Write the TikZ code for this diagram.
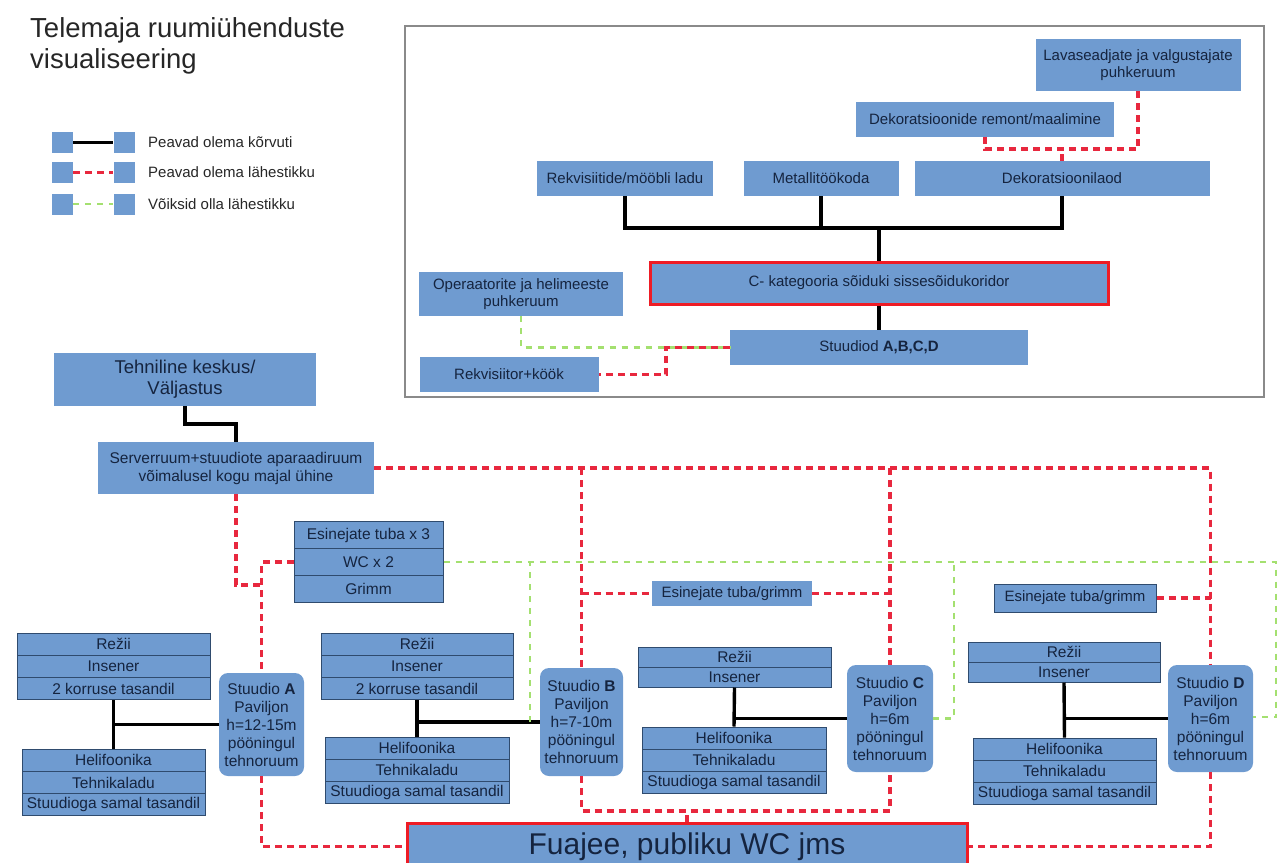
\documentclass[tikz,border=0pt]{standalone}
\usepackage{fontspec}
\setmainfont{Liberation Sans}
\usetikzlibrary{positioning}
\definecolor{boxblue}{HTML}{6F9BD0}
\definecolor{boxline}{HTML}{2F4B6E}
\definecolor{boxtext}{HTML}{15243F}
\definecolor{titlegray}{HTML}{262626}
\definecolor{nearred}{HTML}{E8283E}
\definecolor{maygreen}{HTML}{A4E070}
\definecolor{mustred}{HTML}{EE1C25}
\definecolor{framegray}{HTML}{8A8A8A}

\begin{document}
\begin{tikzpicture}[x=1pt,y=-1pt,
    room/.style={fill=boxblue,text=boxtext,align=center,font=\fontsize{15}{17.5}\selectfont},
    cell/.style={room,draw=boxline,line width=1pt,minimum height=22.3pt,font=\fontsize{15.5}{18}\selectfont},
    studio/.style={room,rounded corners=9pt,font=\fontsize{15.5}{18}\selectfont},
    key/.style={fill=boxblue,minimum width=21pt,minimum height=21pt},
    keytext/.style={anchor=west,text=titlegray,font=\fontsize{15}{18}\selectfont},
    adj/.style={line width=3.4pt,black},
    near/.style={line width=3.4pt,nearred,dash pattern=on 7pt off 5pt},
    may/.style={line width=2.8pt,maygreen,dash pattern=on 6pt off 6pt}]
            \tikzstyle{every node}+=[inner sep=0pt]
            \useasboundingbox (0,0) rectangle (1281,862);
            \node [anchor=base west,text=titlegray,font=\fontsize{27.5}{33}\selectfont] (title1) at (30,37) {Telemaja ruumiühenduste};
            \node [anchor=base west,text=titlegray,font=\fontsize{27.5}{33}\selectfont] (title2) at (30,68) {visualiseering};
            \node [key] (k1a) at (62.5,142.5) {};
            \node [key] (k1b) at (124,142.5) {};
            \draw [adj] (k1a) -- (k1b);
            \node [keytext] (t1) at (148,142.5) {Peavad olema kõrvuti};
            \node [key] (k2a) at (62.5,172.5) {};
            \node [key] (k2b) at (124,172.5) {};
            \draw [near] (k2a) -- (k2b);
            \node [keytext] (t2) at (148,172.5) {Peavad olema lähestikku};
            \node [key] (k3a) at (62.5,204) {};
            \node [key] (k3b) at (124,204) {};
            \draw [may] (k3a) -- (k3b);
            \node [keytext] (t3) at (148,204) {Võiksid olla lähestikku};
            \draw [framegray,line width=1.2pt] (405,26) rectangle (1264,397);
            \node [room,minimum width=205pt,minimum height=52pt] (lava) at (1138,65) {Lavaseadjate ja valgustajate\\puhkeruum};
            \node [room,minimum width=258pt,minimum height=35pt] (remont) at (985,119.5) {Dekoratsioonide remont/maalimine};
            \node [room,minimum width=176pt,minimum height=35pt] (rekv) at (625,178.5) {Rekvisiitide/mööbli ladu};
            \node [room,minimum width=155pt,minimum height=35pt] (metall) at (821,178.5) {Metallitöökoda};
            \node [room,minimum width=295pt,minimum height=35pt] (laod) at (1062,178.5) {Dekoratsioonilaod};
            \node [room,draw=mustred,line width=3pt,minimum width=458pt,minimum height=42pt] (koridor) at (879,283) {C- kategooria sõiduki sissesõidukoridor};
            \node [room,minimum width=298pt,minimum height=35pt] (stuudiod) at (879,347.5) {Stuudiod \textbf{A,B,C,D}};
            \node [room,minimum width=204pt,minimum height=44pt] (oper) at (521,294) {Operaatorite ja helimeeste\\puhkeruum};
            \node [room,minimum width=179pt,minimum height=35pt] (rekvkook) at (509,374.5) {Rekvisiitor+köök};
            \coordinate (kk) at (666,347.5);
            \draw [adj] (rekv.south) |- (laod.south |- 0,228) -- (laod.south);
            \draw [adj] (metall.south) -- (metall.south |- 0,228);
            \draw [adj] (koridor.north) -- (koridor.north |- 0,228);
            \draw [adj] (koridor.south) -- (stuudiod.north);
            \draw [near] (lava.south) |- (remont.south |- 0,149) -- (remont.south);
            \draw [near] (laod.north) -- (laod.north |- 0,149);
            \draw [may] (oper.south) |- (stuudiod.west);
            \draw [near] (stuudiod.west) -- (kk) |- (rekvkook.east);
            \node [room,font=\fontsize{18.5}{21}\selectfont,minimum width=262pt,minimum height=53pt] (tehn) at (185,379.5) {Tehniline keskus/\\Väljastus};
            \node [room,font=\fontsize{15.5}{18}\selectfont,minimum width=276pt,minimum height=52pt] (server) at (236,468) {Serverruum+stuudiote aparaadiruum\\võimalusel kogu majal ühine};
            \draw [adj] (tehn.south) -- (tehn.south |- 0,424) -| (server.north);
            \node [cell,minimum width=149pt,minimum height=26.7pt] (esin1) at (368.5,535.3) {Esinejate tuba x 3};
            \node [cell,minimum width=149pt,minimum height=26.7pt] (esin2) at (368.5,562) {WC x 2};
            \node [cell,minimum width=149pt,minimum height=26.7pt] (esin3) at (368.5,588.7) {Grimm};
            \node [cell,minimum width=193pt] (ar1) at (113.5,644.2) {Režii};
            \node [cell,minimum width=193pt] (ar2) at (113.5,666.5) {Insener};
            \node [cell,minimum width=193pt] (ar3) at (113.5,688.8) {2 korruse tasandil};
            \node [cell,minimum width=183pt] (ab1) at (113.5,760.2) {Helifoonika};
            \node [cell,minimum width=183pt] (ab2) at (113.5,782.5) {Tehnikaladu};
            \node [cell,minimum width=183pt] (ab3) at (113.5,804.8) {Stuudioga samal tasandil};
            \node [studio,minimum width=85pt,minimum height=103pt] (stA) at (261.5,724.5) {Stuudio \textbf{A}\\Paviljon\\h=12-15m\\pööningul\\tehnoruum};
            \draw [adj] (ar3.south) -- (ab1.north);
            \draw [adj] (stA.west) -- (stA.west -| ar3.south);
            \node [cell,minimum width=192pt] (br1) at (417,644.2) {Režii};
            \node [cell,minimum width=192pt] (br2) at (417,666.5) {Insener};
            \node [cell,minimum width=192pt] (br3) at (417,688.8) {2 korruse tasandil};
            \node [cell,minimum width=184pt,minimum height=22pt] (bb1) at (417,748) {Helifoonika};
            \node [cell,minimum width=184pt,minimum height=22pt] (bb2) at (417,770) {Tehnikaladu};
            \node [cell,minimum width=184pt,minimum height=22pt] (bb3) at (417,792) {Stuudioga samal tasandil};
            \node [studio,minimum width=83pt,minimum height=108pt] (stB) at (581.5,722) {Stuudio \textbf{B}\\Paviljon\\h=7-10m\\pööningul\\tehnoruum};
            \draw [adj] (br3.south) -- (bb1.north);
            \draw [adj] (stB.west) -- (stB.west -| br3.south);
            \node [cell,minimum width=193pt,minimum height=20pt] (cr1) at (734.5,657) {Režii};
            \node [cell,minimum width=193pt,minimum height=20pt] (cr2) at (734.5,677) {Insener};
            \node [cell,minimum width=184pt,minimum height=22pt] (cb1) at (734,738) {Helifoonika};
            \node [cell,minimum width=184pt,minimum height=22pt] (cb2) at (734,760) {Tehnikaladu};
            \node [cell,minimum width=184pt,minimum height=22pt] (cb3) at (734,782) {Stuudioga samal tasandil};
            \node [studio,minimum width=86pt,minimum height=107pt] (stC) at (890,718.5) {Stuudio \textbf{C}\\Paviljon\\h=6m\\pööningul\\tehnoruum};
            \draw [adj] (cr2.south) -- (cb1.north);
            \draw [adj] (stC.west) -- (stC.west -| cr2.south);
            \node [cell,minimum width=192pt,minimum height=20pt] (dr1) at (1064,652) {Režii};
            \node [cell,minimum width=192pt,minimum height=20pt] (dr2) at (1064,672) {Insener};
            \node [cell,minimum width=183pt,minimum height=22pt] (db1) at (1064.5,749) {Helifoonika};
            \node [cell,minimum width=183pt,minimum height=22pt] (db2) at (1064.5,771) {Tehnikaladu};
            \node [cell,minimum width=183pt,minimum height=22pt] (db3) at (1064.5,793) {Stuudioga samal tasandil};
            \node [studio,minimum width=85pt,minimum height=107pt] (stD) at (1210.5,718.5) {Stuudio \textbf{D}\\Paviljon\\h=6m\\pööningul\\tehnoruum};
            \draw [adj] (dr2.south) -- (db1.north);
            \draw [adj] (stD.west) -- (stD.west -| dr2.south);
            \node [room,minimum width=160pt,minimum height=25pt] (grimC) at (732,593.5) {Esinejate tuba/grimm};
            \node [room,draw=boxline,line width=1pt,minimum width=162pt,minimum height=28pt] (grimD) at (1075,598) {Esinejate tuba/grimm};
            \node [room,draw=mustred,line width=3pt,font=\fontsize{30}{36}\selectfont,minimum width=560pt,minimum height=47pt] (fuaj) at (687,846.5) {Fuajee, publiku WC jms};
            \draw [near] (server.east) -| (stD.north);
            \draw [near] (stB.north |- server.east) -- (stB.north);
            \draw [near] (stC.north |- server.east) -- (stC.north);
            \draw [near] (stB.north |- grimC.west) -- (grimC.west);
            \draw [near] (grimC.east) -- (stC.north |- grimC.east);
            \draw [near] (grimD.east) -- (stD.north |- grimD.east);
            \draw [near] (server.south) |- (stA.north |- 0,585);
            \draw [near] (esin2.west) -| (stA.north);
            \draw [near] (stA.south) |- (fuaj.west);
            \draw [near] (stD.south) |- (fuaj.east);
            \draw [near] (stB.south) |- (stC.south |- 0,811) -- (stC.south);
            \draw [near] (fuaj.north) -- (fuaj.north |- 0,811);
            \coordinate (gR) at (1276,717);
            \coordinate (gB) at (530,722);
            \coordinate (gC) at (954,562);
            \draw [may] (esin2.east) -| (gR) -- (stD.east |- gR);
            \draw [may] (gB) -- (gB |- esin2.east);
            \draw [may] (stC.east) -| (gC);
\end{tikzpicture}
\end{document}
